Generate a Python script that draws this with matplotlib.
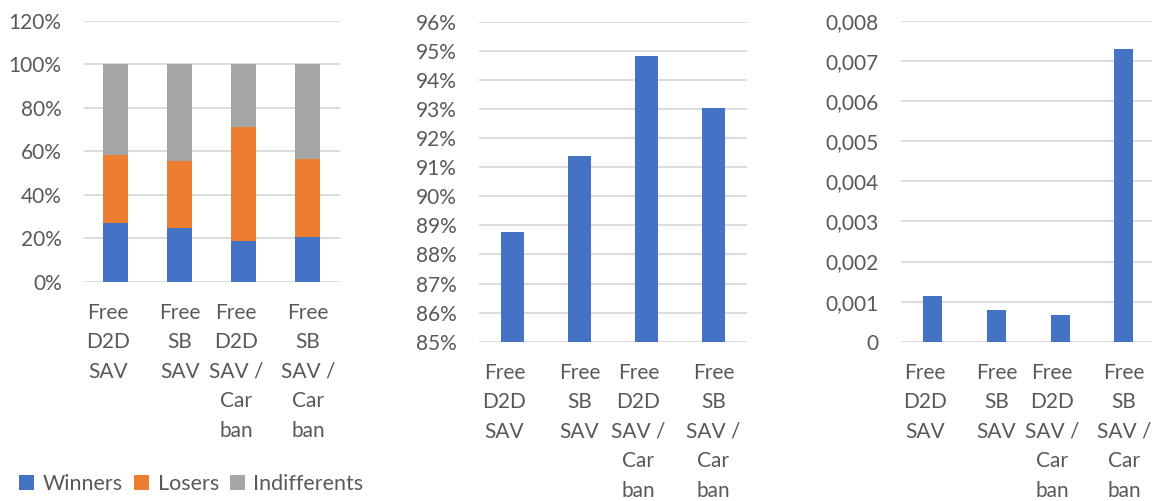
import matplotlib.pyplot as plt
from matplotlib.ticker import FuncFormatter, MultipleLocator
from matplotlib.transforms import ScaledTranslation

plt.rcParams['font.family'] = ['Lato', 'DejaVu Sans']

categories = ["Free\nD2D\nSAV", "Free\nSB\nSAV",
              "Free\nD2D\nSAV /\nCar\nban", "Free\nSB\nSAV /\nCar\nban"]

# stacked shares per scenario
winners = [0.272, 0.247, 0.189, 0.206]
losers = [0.312, 0.308, 0.525, 0.361]
indifferents = [0.416, 0.445, 0.286, 0.433]

# middle and right panels
share_values = [0.8878, 0.9138, 0.9482, 0.9302]
small_values = [0.00114, 0.00079, 0.00067, 0.00729]

BLUE = "#4472C4"
ORANGE = "#ED7D31"
GREY = "#A5A5A5"
TEXT = "#595959"
GRID = "#D9D9D9"
FS = 15


def style_axes(ax):
    for s in ax.spines.values():
        s.set_visible(False)
    ax.yaxis.grid(True, color=GRID, linewidth=1.3)
    ax.set_axisbelow(True)
    ax.tick_params(axis='both', length=0, colors=TEXT, labelsize=FS)
    ax.tick_params(axis='y', pad=16)
    ax.tick_params(axis='x', pad=15)
    ax.set_xlim(-0.5, len(categories) - 0.5)
    ax.set_xticks(range(len(categories)))
    ax.set_xticklabels(categories, linespacing=1.6, va='top')
    # wrapped labels sit a little left of the first and third bars
    for i, lbl in enumerate(ax.get_xticklabels()):
        lbl.set_color(TEXT)
        if i in (0, 2):
            lbl.set_transform(lbl.get_transform() +
                              ScaledTranslation(-0.08, 0, fig.dpi_scale_trans))


fig = plt.figure(figsize=(11.52, 5.01), dpi=100)

# left: stacked winners / losers / indifferents
ax1 = fig.add_axes([0.0729, 0.4377, 0.2222, 0.5203])
x = range(len(categories))
bottom2 = [w + l for w, l in zip(winners, losers)]
b1 = ax1.bar(x, winners, width=0.39, color=BLUE)
b2 = ax1.bar(x, losers, width=0.39, bottom=winners, color=ORANGE)
b3 = ax1.bar(x, indifferents, width=0.39, bottom=bottom2, color=GREY)
ax1.set_ylim(0, 1.2)
ax1.yaxis.set_major_locator(MultipleLocator(0.2))
ax1.yaxis.set_major_formatter(FuncFormatter(lambda v, p: f"{v * 100:.0f}%"))
style_axes(ax1)

# middle
ax2 = fig.add_axes([0.4158, 0.318, 0.2326, 0.6387])
ax2.bar(x, share_values, width=0.33, color=BLUE)
ax2.set_ylim(0.85, 0.96)
ax2.set_yticks([0.85 + i * 0.01 for i in range(12)])
ax2.yaxis.set_major_formatter(FuncFormatter(lambda v, p: f"{v * 100:.0f}%"))
style_axes(ax2)

# right
ax3 = fig.add_axes([0.7819, 0.318, 0.2214, 0.640])
ax3.bar(x, small_values, width=0.30, color=BLUE)
ax3.set_ylim(0, 0.008)
ax3.set_yticks([i * 0.001 for i in range(9)])
ax3.yaxis.set_major_formatter(
    FuncFormatter(lambda v, p: "0" if abs(v) < 1e-9 else f"{v:.3f}".replace(".", ",")))
style_axes(ax3)

fig.legend([b1, b2, b3], ["Winners", "Losers", "Indifferents"],
           loc='lower left', bbox_to_anchor=(0.0, -0.025), ncol=3,
           frameon=False, fontsize=15.5, labelcolor=TEXT,
           handlelength=0.7, handleheight=0.7, handletextpad=0.4,
           columnspacing=0.5)

fig.savefig("out.png", dpi=100)
